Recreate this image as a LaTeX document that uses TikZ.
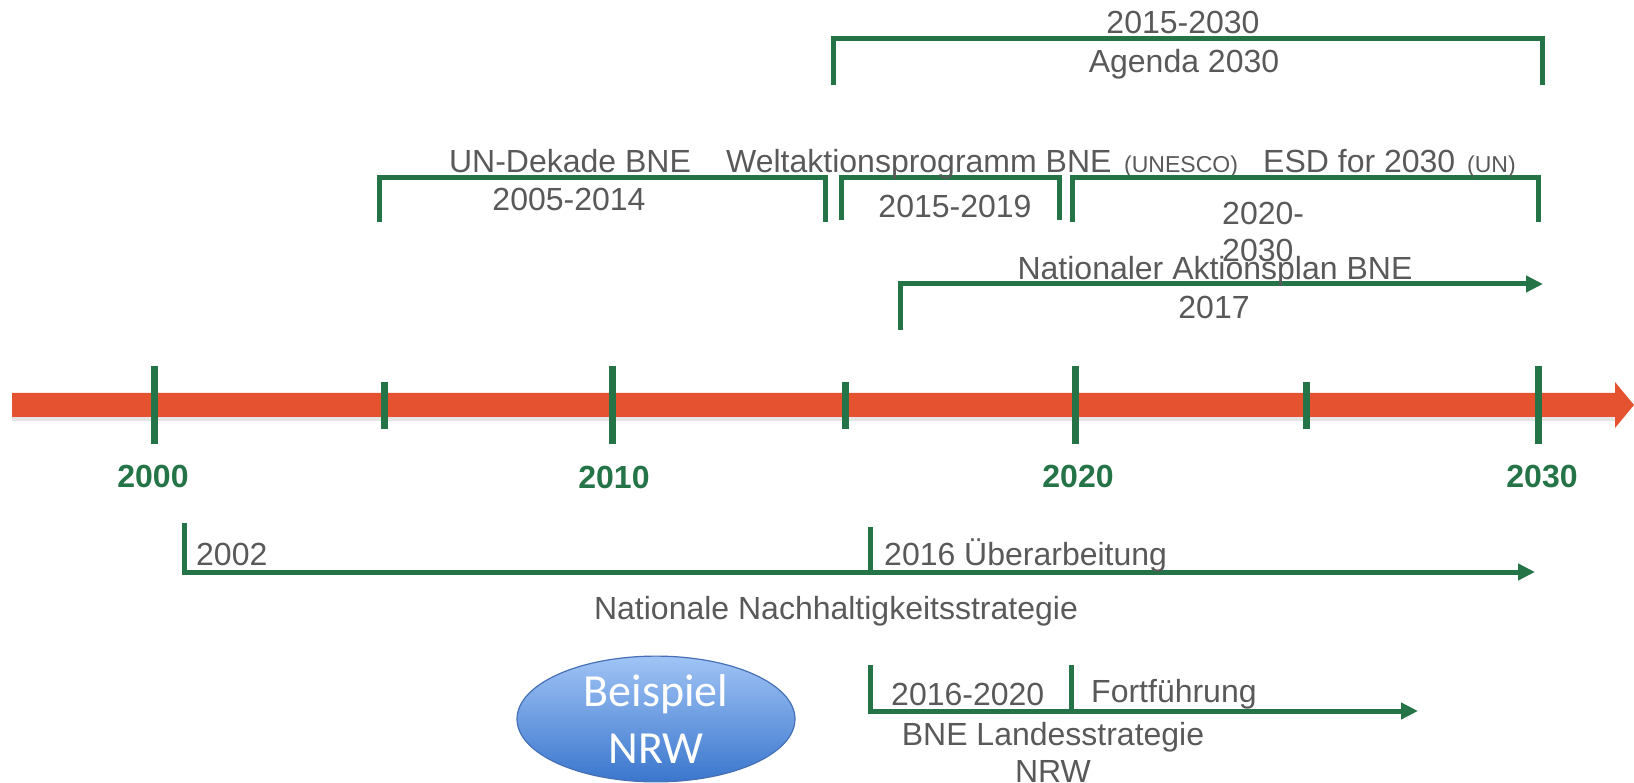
\documentclass[tikz,border=0pt]{standalone}
\usepackage{fontspec}
\setmainfont{Liberation Sans}
\newfontfamily\calib{Carlito}
\usetikzlibrary{arrows.meta,shapes.geometric}
\definecolor{tlgreen}{RGB}{37,116,72}
\definecolor{tlred}{RGB}{229,82,48}
\definecolor{tlgray}{RGB}{89,89,89}
\definecolor{ellTop}{RGB}{160,196,245}
\definecolor{ellBot}{RGB}{58,118,205}
\definecolor{ellEdge}{RGB}{72,112,182}
\begin{document}
\begin{tikzpicture}[x=1pt,y=-1pt,
  lbl/.style={font=\fontsize{32}{37}\selectfont, text=tlgray, inner sep=0pt, anchor=base},
  lblw/.style={lbl, anchor=base west},
  smalllbl/.style={font=\fontsize{23}{27}\selectfont, text=tlgray, inner sep=0pt, anchor=base west},
  yearlbl/.style={font=\fontsize{32}{37}\selectfont\bfseries, text=tlgreen, inner sep=0pt, anchor=base},
  bracket/.style={draw=tlgreen, line width=5pt, line join=miter},
  arr/.style={bracket, -{Triangle[length=17pt,width=16pt]}},
  tickmaj/.style={draw=tlgreen, line width=7pt},
]
\useasboundingbox (0,0) rectangle (1634,783);

% timeline bar
\fill[black, opacity=0.10] (12,417) -- (1615,417) -- (1615,421) -- (12,421) -- cycle;
\fill[tlred] (12,393) -- (1615,393) -- (1615,382) -- (1634,405) -- (1615,428) -- (1615,417) -- (12,417) -- cycle;

% ticks
\foreach \nm/\xx in {2000/154, 2010/612, 2020/1075, 2030/1538} {
  \coordinate (ta\nm) at (\xx,366);
  \coordinate (tb\nm) at (\xx,444);
  \draw[tickmaj] (ta\nm) -- (tb\nm);
}
\foreach \nm/\xx in {2005/384, 2015/845, 2025/1306} {
  \coordinate (ta\nm) at (\xx,382);
  \coordinate (tb\nm) at (\xx,429);
  \draw[tickmaj] (ta\nm) -- (tb\nm);
}

% year labels
\node[yearlbl] (y2000) at (153,487) {2000};
\node[yearlbl] (y2010) at (614,489) {2010};
\node[yearlbl] (y2020) at (1078,487) {2020};
\node[yearlbl] (y2030) at (1542,487) {2030};

% Agenda 2030
\coordinate (ag1) at (833,85);
\coordinate (ag2) at (833,38.5);
\coordinate (ag3) at (1542,38.5);
\coordinate (ag4) at (1542,85);
\draw[bracket] (ag1) -- (ag2) -- (ag3) -- (ag4);
\node[lbl] (agy) at (1183,34) {2015-2030};
\node[lbl] (agn) at (1184,73) {Agenda 2030};

% UN-Dekade
\coordinate (ud1) at (379,222);
\coordinate (ud2) at (379,178);
\coordinate (ud3) at (825,178);
\coordinate (ud4) at (825,222);
\draw[bracket] (ud1) -- (ud2) -- (ud3) -- (ud4);
\node[lbl] (und) at (570,173) {UN-Dekade BNE};
\node[lbl] (undy) at (569,211) {2005-2014};

% Weltaktionsprogramm
\coordinate (wa1) at (841,220);
\coordinate (wa2) at (841,178);
\coordinate (wa3) at (1059,178);
\coordinate (wa4) at (1059,220);
\draw[bracket] (wa1) -- (wa2) -- (wa3) -- (wa4);
\node[lblw] (wap) at (726,173) {Weltaktionsprogramm BNE};
\node[smalllbl] (unesco) at (1124,173) {(UNESCO)};
\node[lbl] (wapy) at (955,218) {2015-2019};

% ESD for 2030
\coordinate (es1) at (1072,222);
\coordinate (es2) at (1072,178);
\coordinate (es3) at (1538,178);
\coordinate (es4) at (1538,222);
\draw[bracket] (es1) -- (es2) -- (es3) -- (es4);
\node[lblw] (esd) at (1263,173) {ESD for 2030};
\node[smalllbl] (un) at (1467,173) {(UN)};
\node[lbl, anchor=north west, align=left] (esdy) at (1222,202) {2020-\\2030};

% Nationaler Aktionsplan
\coordinate (na1) at (900,330);
\coordinate (na2) at (900,284);
\coordinate (na3) at (1543,284);
\draw[arr] (na1) -- (na2) -- (na3);
\node[lbl] (nap) at (1215,280) {Nationaler Aktionsplan BNE};
\node[lbl] (napy) at (1214,319) {2017};

% Nationale Nachhaltigkeitsstrategie
\coordinate (nn1) at (184,523);
\coordinate (nn2) at (184,572);
\coordinate (nn3) at (1535,572);
\coordinate (nn4) at (870,527);
\coordinate (nn5) at (870,572);
\draw[arr] (nn1) -- (nn2) -- (nn3);
\draw[bracket] (nn4) -- (nn5);
\node[lblw] (nn02) at (196,565) {2002};
\node[lblw] (nn16) at (884,565) {2016 Überarbeitung};
\node[lbl] (nns) at (836,619) {Nationale Nachhaltigkeitsstrategie};

% Beispiel NRW
\node[ellipse, minimum width=278pt, minimum height=118pt, inner sep=0pt,
      draw=ellEdge, line width=1.2pt, top color=ellTop, bottom color=ellBot,
      text=white, font=\calib\fontsize{46}{57}\selectfont, align=center]
      (nrw) at (656,719) {Beispiel\\NRW};

% BNE Landesstrategie
\coordinate (ls1) at (870,665);
\coordinate (ls2) at (870,711);
\coordinate (ls3) at (1418,711);
\coordinate (ls4) at (1071,665);
\coordinate (ls5) at (1071,711);
\draw[arr] (ls1) -- (ls2) -- (ls3);
\draw[bracket] (ls4) -- (ls5);
\node[lblw] (ls16) at (891,705) {2016-2020};
\node[lblw] (lsf) at (1091,702) {Fortführung};
\node[lbl, anchor=north, align=center] (lsn) at (1053,722) {BNE Landesstrategie\\NRW};
\end{tikzpicture}
\end{document}
